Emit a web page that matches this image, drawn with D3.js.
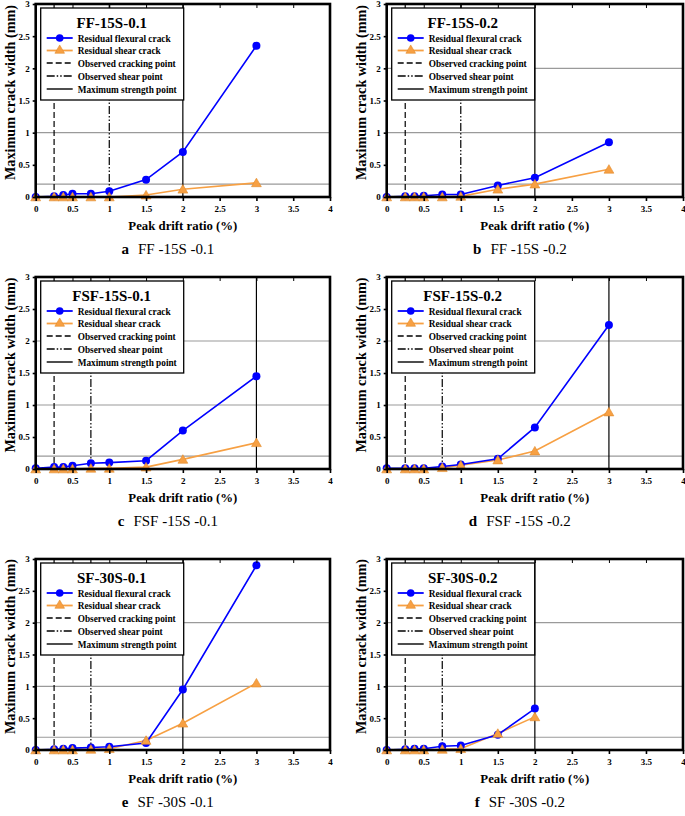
<!DOCTYPE html>
<html><head><meta charset="utf-8">
<script src="https://cdn.jsdelivr.net/npm/d3@7"></script>
<style>body{margin:0;background:#fff}svg{display:block}</style>
</head><body>
<svg id="c" width="685" height="816"></svg>
<script>
const drift = [0, 0.25, 0.375, 0.5, 0.75, 1, 1.5, 2, 3];
const xTicks = [0, 0.5, 1, 1.5, 2, 2.5, 3, 3.5, 4];
const yTicks = [0, 0.5, 1, 1.5, 2, 2.5, 3];
const panelIds = ["FF-15S-0.1", "FF-15S-0.2", "FSF-15S-0.1", "FSF-15S-0.2", "SF-30S-0.1", "SF-30S-0.2"];
const captionLetters = ["a", "b", "c", "d", "e", "f"];
const captionNames = ["FF -15S -0.1", "FF -15S -0.2", "FSF -15S -0.1", "FSF -15S -0.2", "SF -30S -0.1", "SF -30S -0.2"];
const flexural = [
  [0, 0.01, 0.03, 0.05, 0.05, 0.09, 0.27, 0.70, 2.35],
  [0, 0.01, 0.01, 0.02, 0.04, 0.04, 0.18, 0.30, 0.85],
  [0.01, 0.03, 0.03, 0.05, 0.09, 0.10, 0.13, 0.60, 1.45],
  [0.01, 0.01, 0.01, 0.01, 0.04, 0.07, 0.16, 0.65, 2.25],
  [0, 0.01, 0.02, 0.03, 0.04, 0.05, 0.11, 0.95, 2.90],
  [0, 0.01, 0.02, 0.02, 0.06, 0.07, 0.24, 0.65]
];
const shear = [
  [0, 0, 0, 0, 0, 0, 0.03, 0.12, 0.22],
  [0, 0, 0, 0, 0, 0.01, 0.12, 0.20, 0.43],
  [0, 0, 0, 0, 0.01, 0.01, 0.03, 0.15, 0.41],
  [0, 0, 0, 0, 0.02, 0.06, 0.14, 0.28, 0.89],
  [0, 0, 0, 0, 0.01, 0.02, 0.15, 0.42, 1.05],
  [0, 0, 0, 0, 0.01, 0.02, 0.26, 0.52]
];
const crackingPoint = [0.25, 0.25, 0.25, 0.25, 0.25, 0.25];
const shearPoint = [1, 1, 0.75, 0.75, 0.75, 0.75];
const maxStrengthPoint = [2, 2, 3, 3, 2, 2];
const gridLevels = [[0.2, 1], [0.2, 1, 2], [0.2, 1, 2], [0.2, 1, 2], [0.2, 1, 2], [0.2, 1, 2]];
const legendLabels = ["Residual flexural crack", "Residual shear crack", "Observed cracking point", "Observed shear point", "Maximum strength point"];
const legendTextWidths = [93, 83, 98, 85, 99];

const svg = d3.select("#c");
const FONT = "'Liberation Serif','Times New Roman',serif";
const BLUE = "#0000ff", ORANGE = "#f7a043", ORANGE_D = "#e08a2a";
const colX = [[35.7, 330], [386.7, 683]];
const rowY = [[4, 197], [277, 469], [559, 750]];
const shearDash = "8,2,1.5,2,1.5,2";

panelIds.forEach((pid, i) => {
  const col = i % 2, row = Math.floor(i / 2);
  const [xl, xr] = colX[col], [yt, yb] = rowY[row];
  const x = d3.scaleLinear().domain([0, 4]).range([xl, xr]);
  const y = d3.scaleLinear().domain([0, 3]).range([yb, yt]);
  const g = svg.append("g");

  g.selectAll(".grid").data(gridLevels[i]).join("line")
    .attr("x1", xl).attr("x2", xr).attr("y1", d => y(d)).attr("y2", d => y(d))
    .attr("stroke", "#9a9a9a").attr("stroke-width", 1.2);

  const vlines = [[crackingPoint[i], "6,3"], [shearPoint[i], shearDash], [maxStrengthPoint[i], null]];
  vlines.forEach(([v, dash]) => {
    const l = g.append("line").attr("x1", x(v)).attr("x2", x(v)).attr("y1", yt).attr("y2", yb)
      .attr("stroke", "#000").attr("stroke-width", 1.2);
    if (dash) l.attr("stroke-dasharray", dash);
  });

  const lx = xl + 5, ly = yt + 4, lw = 143, lh = 92;
  const lg = g.append("g");
  lg.append("rect").attr("x", lx).attr("y", ly).attr("width", lw).attr("height", lh)
    .attr("fill", "#fff").attr("stroke", "#000").attr("stroke-width", 1.3);
  lg.append("text").attr("x", lx + 71).attr("y", ly + 20).attr("text-anchor", "middle")
    .attr("font-family", FONT).attr("font-weight", "bold").attr("font-size", 15).text(pid);
  const rows = [30, 42.5, 55, 68, 81];
  legendLabels.forEach((lab, k) => {
    const cy = ly + rows[k];
    const ln = lg.append("line").attr("x1", lx + 6).attr("x2", lx + 32).attr("y1", cy).attr("y2", cy)
      .attr("stroke", k === 0 ? BLUE : k === 1 ? ORANGE : "#000").attr("stroke-width", k < 2 ? 1.8 : 1.4);
    if (k === 2) ln.attr("stroke-dasharray", "6,3");
    if (k === 3) ln.attr("stroke-dasharray", shearDash);
    if (k === 0) lg.append("circle").attr("cx", lx + 19).attr("cy", cy).attr("r", 3.8).attr("fill", BLUE);
    if (k === 1) lg.append("path").attr("d", d3.symbol(d3.symbolTriangle, 40)())
      .attr("transform", `translate(${lx + 19},${cy})`).attr("fill", ORANGE).attr("stroke", ORANGE_D).attr("stroke-width", 0.6);
    lg.append("text").attr("x", lx + 37).attr("y", cy + 3.8)
      .attr("font-family", FONT).attr("font-weight", "bold").attr("font-size", 11)
      .attr("textLength", legendTextWidths[k]).attr("lengthAdjust", "spacingAndGlyphs").text(lab);
  });

  const pts = (arr) => arr.map((v, k) => [drift[k], v]);
  const line = d3.line().x(d => x(d[0])).y(d => y(d[1]));
  g.append("path").attr("d", line(pts(shear[i]))).attr("fill", "none").attr("stroke", ORANGE).attr("stroke-width", 1.6);
  g.append("path").attr("d", line(pts(flexural[i]))).attr("fill", "none").attr("stroke", BLUE).attr("stroke-width", 1.6);
  g.selectAll(".fc").data(pts(flexural[i])).join("circle")
    .attr("cx", d => x(d[0])).attr("cy", d => y(d[1])).attr("r", 4).attr("fill", BLUE);
  g.selectAll(".sh").data(pts(shear[i])).join("path")
    .attr("d", d3.symbol(d3.symbolTriangle, 42)())
    .attr("transform", d => `translate(${x(d[0])},${y(d[1]) + 1})`)
    .attr("fill", ORANGE).attr("stroke", ORANGE_D).attr("stroke-width", 0.6);

  g.append("rect").attr("x", xl).attr("y", yt).attr("width", xr - xl).attr("height", yb - yt)
    .attr("fill", "none").attr("stroke", "#000").attr("stroke-width", 2.6);

  const xa = g.append("g").attr("transform", `translate(0,${yb})`)
    .call(d3.axisBottom(x).tickValues(xTicks).tickFormat(d3.format("")).tickSize(4).tickPadding(5));
  const ya = g.append("g").attr("transform", `translate(${xl},0)`)
    .call(d3.axisLeft(y).tickValues(yTicks).tickFormat(d3.format("")).tickSize(3).tickPadding(3));
  g.append("g").attr("transform", `translate(0,${yt})`)
    .call(d3.axisTop(x).tickValues(xTicks).tickFormat("").tickSize(-4))
    .call(a => a.select(".domain").remove());
  [xa, ya].forEach(a => {
    a.select(".domain").remove();
    a.selectAll("line").attr("stroke-width", 1.6);
    a.selectAll("text").attr("font-family", FONT).attr("font-weight", "bold").attr("font-size", 9).attr("fill", "#000");
  });

  g.append("text").attr("x", (xl + xr) / 2).attr("y", yb + 33).attr("text-anchor", "middle")
    .attr("font-family", FONT).attr("font-weight", "bold").attr("font-size", 13)
    .attr("textLength", 109).attr("lengthAdjust", "spacingAndGlyphs").text("Peak drift ratio (%)");
  g.append("text").attr("transform", `translate(${xl - 21},${(yt + yb) / 2 - 8}) rotate(-90)`)
    .attr("text-anchor", "middle").attr("font-family", FONT).attr("font-weight", "bold").attr("font-size", 14)
    .attr("textLength", 175).attr("lengthAdjust", "spacingAndGlyphs")
    .text("Maximum crack width (mm)");

  const cap = g.append("text").attr("x", (xl + xr) / 2 - 15).attr("y", yb + 57).attr("text-anchor", "middle")
    .attr("font-family", FONT).attr("font-size", 15);
  cap.append("tspan").attr("font-weight", "bold").text(captionLetters[i]);
  cap.append("tspan").attr("dx", 9).text(captionNames[i]);
});
</script>
</body></html>
